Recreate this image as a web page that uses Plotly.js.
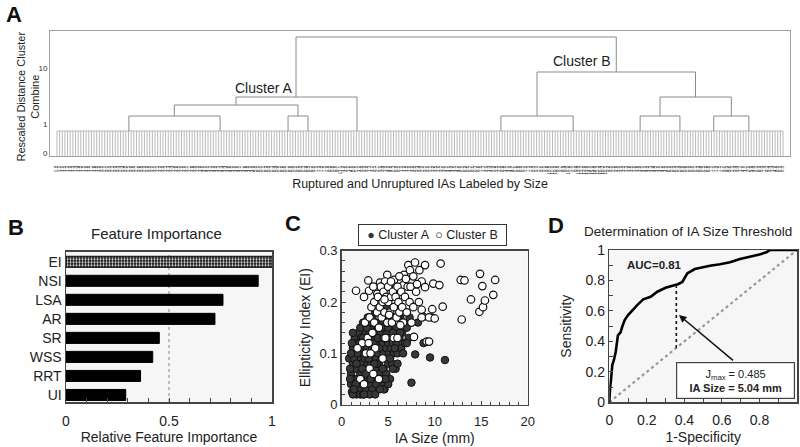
<!DOCTYPE html>
<html>
<head>
<meta charset="utf-8">
<script src="https://cdn.plot.ly/plotly-3.0.1.min.js"></script>
<style>html,body{margin:0;padding:0;background:#fff;}#plot{width:800px;height:447px;}</style>
</head>
<body>
<div id="plot"></div>
<script>
// ---------- Panel A: dendrogram ----------
const linkLeft  = [21.7, 69.7, 35.4, 54.0, 133.9, 175.9, 198.1, 181.9, 144.8, 72.1];
const linkRight = [49.2, 75.7, 72.7, 90.5, 155.7, 187.9, 208.7, 203.4, 192.6, 168.7];
const linkTop   = [40, 40, 51, 59, 40, 40, 40, 59, 84, 119];
const linkBotL  = [25, 25, 40, 51, 25, 25, 25, 40, 40, 59];
const linkBotR  = [25, 25, 40, 25, 25, 25, 25, 40, 59, 84];
const leafHeight = 25;
const distTickVals = [3, 31.5, 88];
const distTickText = ['0', '1', '10'];

// ---------- Panel B: feature importance ----------
const features = ['EI', 'NSI', 'LSA', 'AR', 'SR', 'WSS', 'RRT', 'UI'];
const importance = [1.0, 0.933, 0.762, 0.723, 0.453, 0.421, 0.362, 0.29];

// ---------- Panel C: scatter ----------
const sizeA = [0.8,1.0,1.0,1.1,1.2,1.2,1.3,1.4,1.4,1.5,1.5,1.6,1.6,1.7,1.8,1.8,1.9,2.0,2.0,2.1,2.1,2.2,2.2,2.3,2.4,2.4,2.5,2.5,2.6,2.6,
  2.7,2.8,2.8,2.9,2.9,3.0,3.0,3.1,3.1,3.2,3.2,3.3,3.3,3.4,3.4,3.5,3.5,3.6,3.6,3.7,3.7,3.8,3.8,3.9,3.9,4.0,4.0,4.1,4.1,4.2,
  4.2,4.3,4.3,4.4,4.4,4.5,4.5,4.6,4.6,4.7,4.7,4.8,4.8,4.9,4.9,5.0,5.0,5.1,5.1,5.2,5.2,5.3,5.4,5.4,5.5,5.6,5.6,5.7,5.8,5.9,
  6.0,6.0,6.2,6.3,6.4,6.5,6.7,6.8,7.0,7.2,7.3,7.5,7.9,8.2,8.8,9.5,9.7,11.1,1.2,2.0,3.0,4.5,5.0,5.5,1.1,0.9,2.3,3.6,
  1.3,1.7,2.3,2.7,3.0,3.4,3.8,4.2,4.6,5.3,5.8,6.1,
  1.0,1.2,1.5,1.6,1.9,2.0,2.2,2.4,2.6,2.7,2.9,3.1,3.2,3.5,3.6,3.7,3.9,4.0,4.1,4.3,4.5,4.7,4.8,5.0,5.2,5.5,5.7,6.0,6.3,6.6,
  7.0,1.3,2.1,3.3,4.4,0.9];
const eiA = [0.09,0.06,0.04,0.025,0.11,0.08,0.05,0.035,0.13,0.10,0.07,0.12,0.02,0.05,0.09,0.14,0.03,0.06,0.11,0.08,0.13,0.04,0.10,0.16,0.07,0.12,0.05,0.09,0.14,0.03,
  0.11,0.17,0.08,0.06,0.13,0.10,0.04,0.15,0.08,0.12,0.06,0.03,0.17,0.09,0.14,0.11,0.05,0.13,0.07,0.16,0.09,0.12,0.04,0.10,0.15,0.08,0.13,0.06,0.18,0.11,
  0.14,0.09,0.04,0.12,0.16,0.07,0.10,0.13,0.03,0.15,0.09,0.11,0.06,0.14,0.19,0.12,0.08,0.10,0.16,0.13,0.05,0.11,0.15,0.08,0.12,0.10,0.17,0.14,0.07,0.12,
  0.15,0.10,0.13,0.17,0.11,0.14,0.16,0.12,0.15,0.13,0.17,0.043,0.098,0.16,0.12,0.092,0.17,0.087,0.02,0.02,0.02,0.03,0.04,0.07,0.12,0.05,0.02,0.02,
  0.09,0.10,0.13,0.05,0.14,0.12,0.08,0.05,0.17,0.17,0.15,0.17,
  0.10,0.14,0.04,0.08,0.12,0.15,0.07,0.02,0.06,0.15,0.09,0.05,0.16,0.08,0.18,0.04,0.13,0.11,0.03,0.15,0.13,0.05,0.17,0.15,0.09,0.14,0.11,0.08,0.14,0.10,
  0.12,0.03,0.05,0.11,0.07,0.07];
const sizeB = [1.54,2.86,2.94,3.83,4.12,4.9,4.66,5.62,5.84,6.63,6.7,7.16,7.34,7.88,8.35,8.96,7.7,8.6,8.96,9.85,10.5,10.64,10.86,8.6,9.74,8.75,9.39,10.0,7.77,9.14,
  9.39,12.8,13.2,12.9,13.9,14.87,15.12,14.8,15.2,15.4,16.3,16.5,2.2,2.5,2.6,2.8,3.0,3.0,3.2,3.3,3.5,3.5,3.6,3.8,3.9,4.0,4.1,4.2,4.3,4.4,
  4.5,4.6,4.7,4.8,4.9,5.0,5.0,5.2,5.3,5.4,5.5,5.6,5.8,5.9,6.0,6.1,6.2,6.4,6.5,6.6,6.8,7.0,7.1,7.3,7.5,7.7,8.0,8.3,8.6,2.0,
  2.4,3.4,3.1,4.0,1.7,2.9,5.6,4.4,6.0,6.2,5.3,7.4,8.1,2.4,3.4,4.6,6.9,5.1,6.3];
const eiB = [0.222,0.242,0.222,0.216,0.238,0.253,0.24,0.243,0.229,0.233,0.253,0.272,0.262,0.277,0.262,0.272,0.25,0.24,0.229,0.236,0.233,0.275,0.191,0.185,0.186,0.171,0.17,0.168,0.132,0.123,
  0.123,0.243,0.242,0.166,0.205,0.255,0.231,0.181,0.19,0.203,0.214,0.243,0.12,0.16,0.10,0.13,0.17,0.07,0.19,0.14,0.20,0.16,0.11,0.18,0.21,0.15,0.19,0.23,0.17,0.20,
  0.22,0.18,0.13,0.21,0.16,0.20,0.23,0.18,0.21,0.16,0.22,0.19,0.21,0.17,0.23,0.20,0.18,0.22,0.19,0.16,0.21,0.18,0.23,0.20,0.16,0.19,0.22,0.20,0.17,0.05,
  0.04,0.06,0.10,0.05,0.11,0.12,0.13,0.09,0.13,0.25,0.24,0.23,0.235,0.21,0.23,0.205,0.245,0.175,0.155];

// ---------- Panel D: ROC ----------
const fpr = [0,0,0.004,0.01,0.016,0.025,0.034,0.046,0.06,0.07,0.082,0.1,0.123,0.15,0.181,0.22,0.256,0.30,0.336,0.366,0.389,0.407,0.416,0.437,0.455,0.487,0.536,0.59,0.643,0.696,0.75,0.80,0.84,0.856,0.91,1];
const tpr = [0,0.07,0.09,0.16,0.245,0.28,0.33,0.44,0.46,0.50,0.54,0.573,0.606,0.64,0.676,0.693,0.726,0.752,0.766,0.775,0.79,0.825,0.847,0.862,0.875,0.884,0.897,0.906,0.919,0.941,0.955,0.97,0.987,1.0,1.0,1.0];
const jFpr = 0.357;
const jTprLow = 0.357, jTprHigh = 0.762;
const aucText = 'AUC=0.81';
const jText = 'J<sub>max</sub> = 0.485<br><b>IA Size = 5.04 mm</b>';

// ---------- geometry helpers ----------
const W = 800, H = 447;
const dx = (a, b) => [a / W, b / W];
const dy = (top, bottom) => [1 - bottom / H, 1 - top / H];
const FONT = 'Liberation Sans, Arial, sans-serif';
const TXT = '#222';

// leaves
const leafLabels = sizeA.concat(sizeB).map(v => v.toFixed(1));
const N = leafLabels.length;
const leafPos = leafLabels.map((_, i) => i * 219 / (N - 1));
const leafX = [], leafY = [];
leafPos.forEach(p => { leafX.push(p, p, null); leafY.push(0, leafHeight, null); });
leafX.push(leafPos[0], leafPos[N - 1]); leafY.push(leafHeight, leafHeight);

const linkX = [], linkY = [];
for (let i = 0; i < linkLeft.length; i++) {
  linkX.push(linkLeft[i], linkLeft[i], linkRight[i], linkRight[i], null);
  linkY.push(linkBotL[i], linkTop[i], linkTop[i], linkBotR[i], null);
}

const traces = [
  {x: leafX, y: leafY, xaxis: 'x', yaxis: 'y', mode: 'lines', line: {color: '#a8a8a8', width: 0.8}, showlegend: false, hoverinfo: 'skip'},
  {x: linkX, y: linkY, xaxis: 'x', yaxis: 'y', mode: 'lines', line: {color: '#8a8a8a', width: 1}, showlegend: false, hoverinfo: 'skip'},
  {type: 'bar', orientation: 'h', x: importance, y: features, xaxis: 'x2', yaxis: 'y2', width: 0.58,
   marker: {color: '#000', line: {color: '#000', width: 1},
            pattern: {shape: features.map((f, i) => i === 0 ? '.' : ''), fgcolor: '#ffffff', bgcolor: '#1a1a1a', size: 3, solidity: 0.35, fillmode: 'replace'}},
   showlegend: false},
  {x: sizeA, y: eiA, xaxis: 'x3', yaxis: 'y3', mode: 'markers', name: 'Cluster A',
   marker: {size: 7.5, color: '#383838', line: {color: '#111', width: 1}}, showlegend: false},
  {x: sizeB, y: eiB, xaxis: 'x3', yaxis: 'y3', mode: 'markers', name: 'Cluster B',
   marker: {size: 7.5, color: '#ffffff', line: {color: '#111', width: 1.2}}, showlegend: false},
  {x: [0, 1], y: [0, 1], xaxis: 'x4', yaxis: 'y4', mode: 'lines', line: {color: '#999', width: 2.2, dash: 'dot'}, showlegend: false},
  {x: [jFpr, jFpr], y: [jTprLow, jTprHigh], xaxis: 'x4', yaxis: 'y4', mode: 'lines', line: {color: '#111', width: 1.6, dash: 'dot'}, showlegend: false},
  {x: fpr, y: tpr, xaxis: 'x4', yaxis: 'y4', mode: 'lines', line: {color: '#000', width: 2.6}, showlegend: false}
];

const boxAxis = (color, w) => ({showline: true, mirror: true, linecolor: color, linewidth: w, zeroline: false, showgrid: false});
const tf = (s) => ({family: FONT, size: s, color: TXT});

const layout = {
  width: W, height: H,
  margin: {l: 0, r: 0, t: 0, b: 0},
  paper_bgcolor: '#fff', plot_bgcolor: 'rgba(0,0,0,0)',
  font: {family: FONT, color: TXT},
  showlegend: false,
  xaxis: Object.assign(boxAxis('#a0a0a0', 1), {
    anchor: 'y', domain: dx(50, 790), range: [-2.1, 221.1], tickmode: 'array', tickvals: leafPos, ticktext: leafLabels,
    tickangle: -90, tickfont: {family: FONT, size: 4.5, color: '#444'}, ticks: '', ticklabelstandoff: 7,
    title: {text: 'Ruptured and Unruptured IAs Labeled by Size', font: tf(12.5), standoff: 5}}),
  yaxis: Object.assign(boxAxis('#a0a0a0', 1), {
    anchor: 'x', domain: dy(31, 156), range: [0, 125], tickmode: 'array', tickvals: distTickVals, ticktext: distTickText,
    tickfont: {family: FONT, size: 8, color: '#333'}, ticks: ''}),
  xaxis2: Object.assign(boxAxis('#444', 1.5), {
    anchor: 'y2', domain: dx(66, 272), range: [0, 1], tickmode: 'linear', tick0: 0, dtick: 0.5, ticks: 'inside', ticklen: 4, tickcolor: '#444',
    minor: {dtick: 0.1, ticks: 'inside', ticklen: 4, tickcolor: '#444'}, ticklabelstandoff: 6,
    tickfont: tf(14), title: {text: 'Relative Feature Importance', font: tf(14), standoff: 4}}),
  yaxis2: Object.assign(boxAxis('#444', 1.5), {
    anchor: 'x2', domain: dy(251.7, 402), type: 'category', range: [7.37, -0.53], ticks: '', tickfont: tf(14)}),
  xaxis3: Object.assign(boxAxis('#444', 1.5), {
    anchor: 'y3', domain: dx(341.7, 527.7), range: [0, 20], dtick: 5, ticks: 'inside', ticklen: 4, tickcolor: '#444',
    minor: {dtick: 1, ticks: 'inside', ticklen: 3, tickcolor: '#444'}, ticklabelstandoff: 4,
    tickfont: tf(13), title: {text: 'IA Size (mm)', font: tf(14), standoff: 5}}),
  yaxis3: Object.assign(boxAxis('#444', 1.5), {
    anchor: 'x3', domain: dy(250.7, 404.7), range: [0, 0.3], dtick: 0.1, ticks: 'inside', ticklen: 4, tickcolor: '#444',
    minor: {dtick: 0.02, ticks: 'inside', ticklen: 3, tickcolor: '#444'},
    tickfont: tf(13), title: {text: 'Ellipticity Index (EI)', font: tf(14), standoff: 5}}),
  xaxis4: Object.assign(boxAxis('#444', 1.5), {
    anchor: 'y4', domain: dx(609.3, 797), range: [0, 1], dtick: 0.2, ticks: 'inside', ticklen: 4, tickcolor: '#444',
    minor: {dtick: 0.1, ticks: 'inside', ticklen: 4, tickcolor: '#444'}, ticklabelstandoff: 4,
    tickfont: tf(14), title: {text: '1-Specificity', font: tf(14), standoff: 5}}),
  yaxis4: Object.assign(boxAxis('#444', 1.5), {
    anchor: 'x4', domain: dy(250, 402.3), range: [0, 1], dtick: 0.2, ticks: 'inside', ticklen: 4, tickcolor: '#444',
    minor: {dtick: 0.1, ticks: 'inside', ticklen: 4, tickcolor: '#444'},
    tickfont: tf(14), title: {text: 'Sensitivity', font: tf(14), standoff: 10}}),
  shapes: [
    {type: 'rect', xref: 'x2 domain', yref: 'y2 domain', x0: 0, x1: 1, y0: 0, y1: 1, fillcolor: '#f6f6f6', line: {width: 0}, layer: 'below'},
    {type: 'rect', xref: 'x3 domain', yref: 'y3 domain', x0: 0, x1: 1, y0: 0, y1: 1, fillcolor: '#f6f6f6', line: {width: 0}, layer: 'below'},
    {type: 'rect', xref: 'x4 domain', yref: 'y4 domain', x0: 0, x1: 1, y0: 0, y1: 1, fillcolor: '#f6f6f6', line: {width: 0}, layer: 'below'},
    {type: 'line', xref: 'x2', yref: 'y2 domain', x0: 0.5, x1: 0.5, y0: 0, y1: 1, line: {color: '#888', width: 1, dash: 'dot'}, layer: 'below'}
  ],
  annotations: [
    {text: '<b>A</b>', xref: 'paper', yref: 'paper', x: 4 / W, y: 1 - 14 / H, xanchor: 'left', yanchor: 'middle', showarrow: false, font: {family: FONT, size: 22, color: '#111'}},
    {text: '<b>B</b>', xref: 'paper', yref: 'paper', x: 6 / W, y: 1 - 227 / H, xanchor: 'left', yanchor: 'middle', showarrow: false, font: {family: FONT, size: 22, color: '#111'}},
    {text: '<b>C</b>', xref: 'paper', yref: 'paper', x: 283 / W, y: 1 - 223 / H, xanchor: 'left', yanchor: 'middle', showarrow: false, font: {family: FONT, size: 22, color: '#111'}},
    {text: '<b>D</b>', xref: 'paper', yref: 'paper', x: 546 / W, y: 1 - 225 / H, xanchor: 'left', yanchor: 'middle', showarrow: false, font: {family: FONT, size: 22, color: '#111'}},
    {text: 'Rescaled Distance Cluster<br>Combine', xref: 'paper', yref: 'paper', x: 27.5 / W, y: 1 - 97 / H, xanchor: 'center', yanchor: 'middle',
     textangle: -90, showarrow: false, font: tf(11)},
    {text: 'Cluster A', xref: 'x', yref: 'y', x: 62.4, y: 68, xanchor: 'center', yanchor: 'middle', showarrow: false, font: tf(14)},
    {text: 'Cluster B', xref: 'x', yref: 'y', x: 158.4, y: 95, xanchor: 'center', yanchor: 'middle', showarrow: false, font: tf(14)},
    {text: 'Feature Importance', xref: 'paper', yref: 'paper', x: 156 / W, y: 1 - 233 / H, xanchor: 'center', yanchor: 'middle', showarrow: false, font: tf(15)},
    {text: '<span style="color:#333">●</span> Cluster A  <span style="color:#111">○</span> Cluster B', xref: 'paper', yref: 'paper', x: 432.5 / W, y: 1 - 235 / H,
     xanchor: 'center', yanchor: 'middle',
     showarrow: false, font: {family: FONT, size: 12.5, color: TXT}, bordercolor: '#333', borderwidth: 1, borderpad: 2, bgcolor: '#fff', width: 143, height: 16},
    {text: 'Determination of IA Size Threshold', xref: 'paper', yref: 'paper', x: 688 / W, y: 1 - 232 / H, xanchor: 'center', yanchor: 'middle', showarrow: false, font: tf(13.5)},
    {text: '<b>' + aucText + '</b>', xref: 'x4', yref: 'y4', x: 0.082, y: 0.9, xanchor: 'left', yanchor: 'middle', showarrow: false, font: tf(11.5)},
    {text: '', xref: 'x4', yref: 'y4', x: 0.371, y: 0.573, ax: 0.667, ay: 0.267, axref: 'x4', ayref: 'y4',
     showarrow: true, arrowhead: 2, arrowsize: 1, arrowwidth: 1.5, arrowcolor: '#111'},
    {text: jText, xref: 'x4', yref: 'y4', x: 0.673, y: 0.1435, xanchor: 'center', yanchor: 'middle', showarrow: false, font: tf(11),
     bordercolor: '#444', borderwidth: 1.2, bgcolor: '#fff', width: 115, height: 33, align: 'center'}
  ]
};

Plotly.newPlot('plot', traces, layout, {staticPlot: true, displayModeBar: false});
</script>
</body>
</html>
